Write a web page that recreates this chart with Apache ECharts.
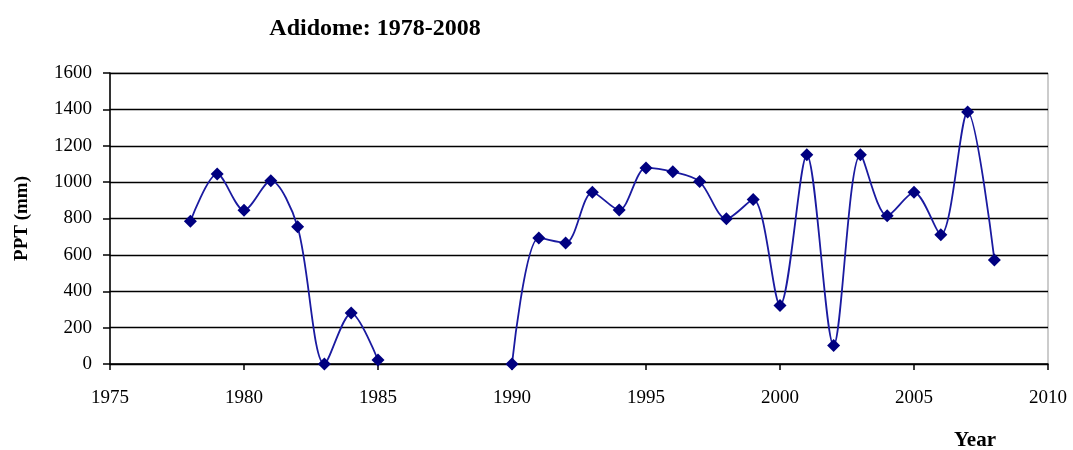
<!DOCTYPE html>
<html>
<head>
<meta charset="utf-8">
<script src="https://cdn.jsdelivr.net/npm/echarts@6/dist/echarts.min.js"></script>
<style>html,body{margin:0;padding:0;background:#fff;}#c{width:1073px;height:450px;}</style>
</head>
<body>
<div id="c"></div>
<script>
const years = [1978,1979,1980,1981,1982,1983,1984,1985,1986,1987,1988,1989,1990,1991,1992,1993,1994,1995,1996,1997,1998,1999,2000,2001,2002,2003,2004,2005,2006,2007,2008];
const ppt = [785,1045,845,1008,755,0,280,22,null,null,null,null,0,693,665,944,847,1078,1057,1003,798,905,322,1150,102,1150,815,944,710,1386,572];
const yTicks = [0,200,400,600,800,1000,1200,1400,1600];
const xTicks = [1975,1980,1985,1990,1995,2000,2005,2010];

const font = 'Liberation Serif, Times New Roman, serif';
const chart = echarts.init(document.getElementById('c'));
chart.setOption({
  animation: false,
  backgroundColor: '#fff',
  title: {
    text: 'Adidome: 1978-2008',
    left: 370, top: 12, textAlign: 'center',
    textStyle: {fontFamily: font, fontSize: 24, fontWeight: 'bold', color: '#000'}
  },
  graphic: [{
    type: 'text', left: 954, top: 430,
    style: {text: 'Year', font: 'bold 21px ' + font, fill: '#000'}
  }],
  grid: {left: 110, right: 25, top: 73, bottom: 86, show: true, borderColor: '#999', borderWidth: 1, outerBoundsMode: 'none', containLabel: false},
  xAxis: {
    type: 'value', min: xTicks[0], max: xTicks[xTicks.length-1], interval: 5,
    axisLine: {lineStyle: {color: '#000', width: 1.5}},
    axisTick: {show: true, length: 6, lineStyle: {color: '#000', width: 1.5}},
    axisLabel: {fontFamily: font, fontSize: 19, color: '#000', margin: 25, formatter: v => String(v)},
    splitLine: {show: false}
  },
  yAxis: {
    type: 'value', min: yTicks[0], max: yTicks[yTicks.length-1], interval: 200,
    name: 'PPT (mm)', nameLocation: 'middle', nameGap: 78, nameRotate: 90,
    nameTextStyle: {fontFamily: font, fontSize: 19, fontWeight: 'bold', color: '#000'},
    axisLine: {show: true, lineStyle: {color: '#000', width: 1.5}},
    axisTick: {show: true, inside: false, length: 7, lineStyle: {color: '#000', width: 1.5}},
    axisLabel: {fontFamily: font, fontSize: 19, color: '#000', margin: 18, formatter: v => String(v)},
    splitLine: {show: true, lineStyle: {color: '#000', width: 1.3}}
  },
  series: [{
    type: 'line',
    data: years.map((y, i) => [y, ppt[i]]),
    smooth: 0.3,
    connectNulls: false,
    symbol: 'diamond', symbolSize: 13,
    itemStyle: {color: '#000080'},
    lineStyle: {color: '#1a1aa0', width: 1.8}
  }]
});
</script>
</body>
</html>
